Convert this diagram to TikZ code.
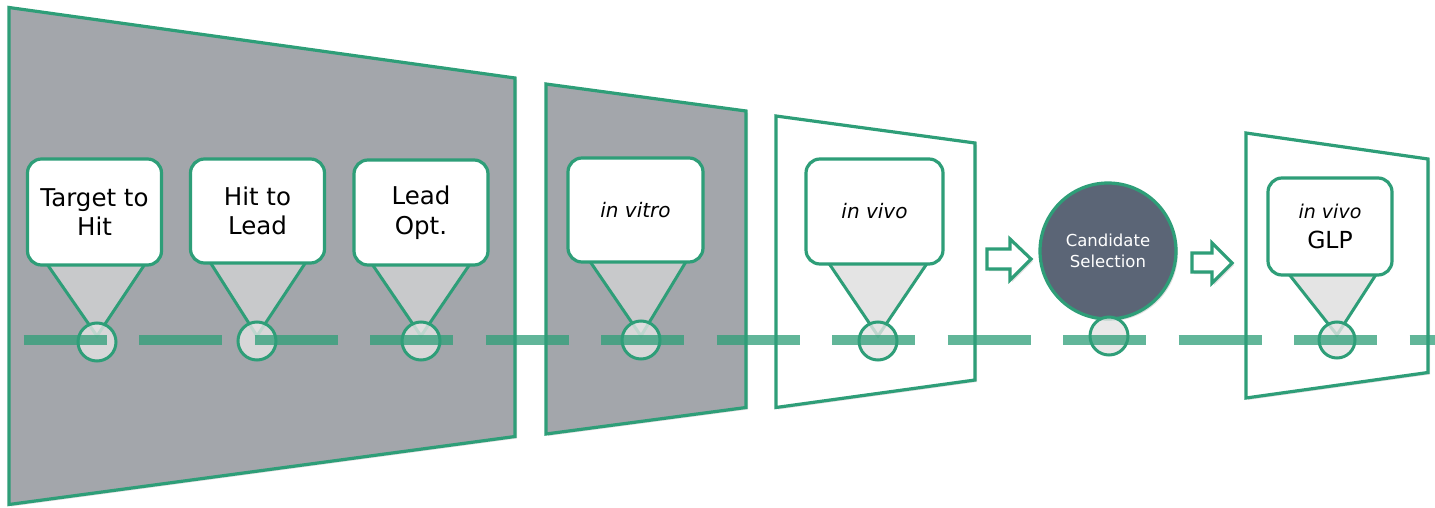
\documentclass[tikz,border=0pt]{standalone}
\usepackage{fontspec}
\setmainfont{DejaVu Sans}
\usetikzlibrary{calc,shadows}
\definecolor{tealg}{RGB}{46,158,120}
\definecolor{panelgray}{RGB}{163,166,171}
\definecolor{candfill}{RGB}{91,101,118}
\definecolor{trig}{RGB}{217,217,217}
\definecolor{dotg}{RGB}{228,228,228}
\tikzset{
  panel/.style={draw=tealg, line width=3.2pt, line join=miter,
    drop shadow={opacity=0.25, shadow xshift=2pt, shadow yshift=-2pt}},
  graypanel/.style={panel, fill=panelgray},
  whitepanel/.style={panel, fill=white},
  lbox/.style={draw=tealg, line width=3.2pt, fill=white, rounded corners=14pt,
    align=center, inner sep=0pt, font=\fontsize{24.5}{29.5}\selectfont},
  trifill/.style={fill=trig, fill opacity=0.7},
  triedge/.style={draw=tealg, line width=3pt},
  dot/.style={circle, draw=tealg, line width=3pt, fill=dotg, fill opacity=0.8,
    minimum size=38pt, inner sep=0pt},
  dashline/.style={draw=tealg, draw opacity=0.75, line width=10pt,
    dash pattern=on 83pt off 32.5pt},
  candnode/.style={circle, draw=tealg, line width=3.2pt, fill=candfill,
    minimum size=136pt, inner sep=0pt, align=center, text=white,
    font=\fontsize{16.5}{20.5}\selectfont,
    drop shadow={opacity=0.25, shadow xshift=2pt, shadow yshift=-2pt}},
  blockarrow/.style={draw=tealg, line width=3.2pt, fill=white, line join=miter,
    drop shadow={opacity=0.25, shadow xshift=2pt, shadow yshift=-2pt}}
}
\begin{document}
\begin{tikzpicture}[x=1pt,y=-1pt]
\useasboundingbox (0,0) rectangle (1435,508);

% panels
\path[graypanel] (9,7.5) -- (515,78) -- (515,436.5) -- (9,504.5) -- cycle;
\path[graypanel] (546,84) -- (746,111) -- (746,407.5) -- (546,434) -- cycle;
\path[whitepanel] (776,116) -- (975,143) -- (975,380) -- (776,407.5) -- cycle;
\path[whitepanel] (1246,133) -- (1428,159) -- (1428,372.5) -- (1246,398) -- cycle;

% apexes of the callout triangles
\coordinate (a1) at (97,336);
\coordinate (a2) at (257,336);
\coordinate (a3) at (421,336);
\coordinate (a4) at (641,336);
\coordinate (a5) at (878,336);
\coordinate (a6) at (1337,335);

% triangles (fill + two sides)
\foreach \ap/\lx/\rx/\ty in {a1/47/145/264, a2/210/306/262, a3/372/470/264,
                             a4/589/687/260, a5/828/928/262, a6/1288/1377/273}{
  \path[trifill] (\lx,\ty) -- (\rx,\ty) -- (\ap) -- cycle;
  \draw[triedge] (\lx,\ty) -- (\ap) -- (\rx,\ty);
}

% callout boxes
\node[lbox, minimum width=134pt, minimum height=106pt] (b1) at (94.5,212) {Target to\\Hit};
\node[lbox, minimum width=134pt, minimum height=104pt] (b2) at (257.5,211) {Hit to\\Lead};
\node[lbox, minimum width=134pt, minimum height=105pt] (b3) at (421,212.5) {Lead\\Opt.};
\node[lbox, minimum width=135pt, minimum height=104pt] (b4) at (635.5,210) {\itshape\fontsize{20}{24}\selectfont in vitro};
\node[lbox, minimum width=137pt, minimum height=105pt] (b5) at (874.5,211.5) {\itshape\fontsize{20}{24}\selectfont in vivo};
\node[lbox, minimum width=124pt, minimum height=97pt] (b6) at (1330,226.5) {{\itshape\fontsize{19}{24}\selectfont in vivo}\\[1pt]{\fontsize{23.5}{28}\selectfont GLP}};

% candidate selection
\node[candnode] (cand) at (1108,251) {Candidate\\Selection};

% dots
\node[dot] (d1) at (97,342) {};
\node[dot] (d2) at (257,341) {};
\node[dot] (d3) at (421,341) {};
\node[dot] (d4) at (641,340) {};
\node[dot] (d5) at (878,341) {};
\node[dot] (d7) at (1109,336) {};
\node[dot, minimum size=36pt] (d6) at (1337,340) {};

% block arrows
\path[blockarrow] (987,249) -- (1010,249) -- (1010,239) -- (1031,259)
  -- (1010,280) -- (1010,269) -- (987,269) -- cycle;
\path[blockarrow] (1192,253) -- (1212,253) -- (1212,243) -- (1232,263)
  -- (1212,283) -- (1212,272) -- (1192,272) -- cycle;

% dashed timeline
\draw[dashline] (23.5,339.5) -- (1440,339.5);
\end{tikzpicture}
\end{document}
